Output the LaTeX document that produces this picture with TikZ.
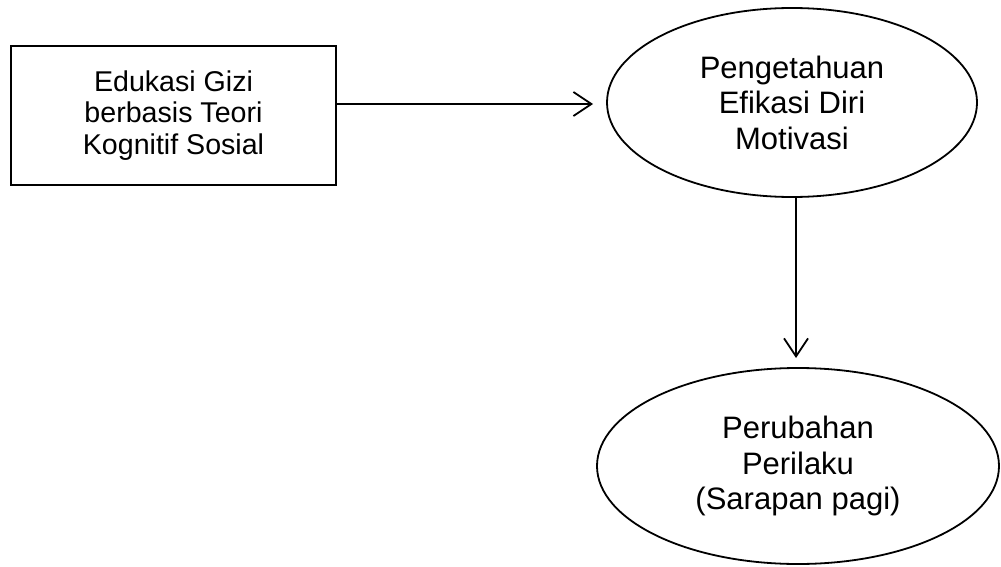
\documentclass[tikz,border=0pt]{standalone}
\usepackage{fontspec}
\setmainfont{Liberation Sans}
\usetikzlibrary{shapes.geometric,arrows.meta}
\begin{document}
\begin{tikzpicture}[x=1pt,y=-1pt,
  every node/.style={line width=1.8pt, align=center, inner sep=0pt, text=black},
  boxnode/.style={draw, rectangle, minimum width=325pt, minimum height=139pt, font=\fontsize{28.6}{31.3}\selectfont},
  ellnode/.style={draw, ellipse, font=\fontsize{31}{35.5}\selectfont},
  conn/.style={line width=1.8pt, -{Straight Barb[length=18pt,width=24pt,line width=1.8pt]}}]
\useasboundingbox (0,0) rectangle (1001,567);
\node[boxnode] (edu) at (173.5,115.5) {Edukasi Gizi\\berbasis Teori\\Kognitif Sosial};
\node[ellnode, minimum width=370pt, minimum height=189pt] (pen) at (792,102.5) {Pengetahuan\\Efikasi Diri\\Motivasi};
\node[ellnode, minimum width=402pt, minimum height=196pt] (per) at (798,466) {Perubahan\\Perilaku\\(Sarapan pagi)};
\coordinate (t1) at (593,104);
\coordinate (t2) at (796,358);
\draw[conn] (edu.east |- t1) -- (t1);
\draw[conn] (pen.south -| t2) -- (t2);
\end{tikzpicture}
\end{document}
